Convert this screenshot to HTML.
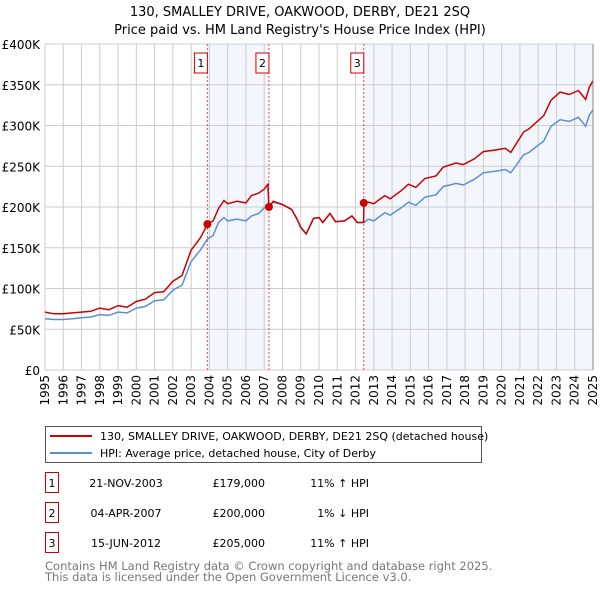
<!DOCTYPE html>
<html><head><meta charset="utf-8"><style>
body{margin:0;background:#fff;font-family:"Liberation Sans","DejaVu Sans",sans-serif;}
svg text{font-family:"DejaVu Sans","Liberation Sans",sans-serif;}
</style></head><body>
<svg id="c" width="600" height="590" xmlns="http://www.w3.org/2000/svg">
<text x="300" y="16" text-anchor="middle" font-size="13" fill="#000">130, SMALLEY DRIVE, OAKWOOD, DERBY, DE21 2SQ</text>
<text x="300" y="34" text-anchor="middle" font-size="13" fill="#000">Price paid vs. HM Land Registry's House Price Index (HPI)</text>
<g id="shade"></g><g id="grid"></g><g id="marks"></g><g id="axes"></g>
<g>
<rect x="45.5" y="426.5" width="436" height="36" fill="#fff" stroke="#555"/>
<line x1="50" y1="436" x2="92" y2="436" stroke="#cc0000" stroke-width="2"/>
<text x="100" y="440" font-size="11">130, SMALLEY DRIVE, OAKWOOD, DERBY, DE21 2SQ (detached house)</text>
<line x1="50" y1="453" x2="92" y2="453" stroke="#5b8fd4" stroke-width="2"/>
<text x="100" y="457" font-size="11">HPI: Average price, detached house, City of Derby</text>
</g>
<g id="table" font-size="11"></g>
<text x="45" y="570" font-size="11.5" fill="#777">Contains HM Land Registry data © Crown copyright and database right 2025.</text>
<text x="45" y="581" font-size="11.5" fill="#777">This data is licensed under the Open Government Licence v3.0.</text>
</svg>
<script>
const years=[1995.0,1995.5,1996.0,1996.5,1997.0,1997.5,1998.0,1998.5,1999.0,1999.5,2000.0,2000.5,2001.0,2001.5,2002.0,2002.5,2003.0,2003.5,2003.9,2004.2,2004.5,2004.8,2005.0,2005.5,2006.0,2006.3,2006.7,2007.0,2007.2,2007.26,2007.5,2008.0,2008.5,2008.8,2009.0,2009.3,2009.7,2010.0,2010.2,2010.6,2010.9,2011.4,2011.8,2012.1,2012.44,2012.46,2012.7,2013.0,2013.6,2013.9,2014.5,2014.9,2015.3,2015.8,2016.4,2016.8,2017.5,2017.9,2018.5,2019.0,2019.7,2020.2,2020.5,2021.2,2021.5,2022.3,2022.7,2023.2,2023.7,2024.2,2024.6,2024.8,2025.0];
const hpi=[63,62,62,63,64,65,68,67,71,70,76,78,85,86,98,104,133,147,161,165,181,187,183,185,183,189,192,199,201,201,206,203,197,185,175,167,186,187,181,192,182,183,189,181,181,181,185,183,193,190,199,206,202,212,215,225,229,227,234,242,244,246,242,264,267,281,299,307,305,310,299,313,319];
const price=[71,69,69,70,71,72,76,74,79,77,84,87,95,96,109,116,147,162,179,183,198,208,204,207,205,214,217,222,228,200,207,203,197,185,175,167,186,187,181,192,182,183,189,181,181,205,206,204,214,210,220,228,224,235,238,249,254,252,259,268,270,272,267,292,296,312,331,341,338,343,332,347,355];
const saleYears=[2003.89,2007.26,2012.45];
const salePrices=[179,200,205];
const saleLabels=["1","2","3"];
const saleDates=["21-NOV-2003","04-APR-2007","15-JUN-2012"];
const saleText=["£179,000","£200,000","£205,000"];
const saleHpi=["11% \u2191 HPI","1% \u2193 HPI","11% \u2191 HPI"];
const yTicks=[0,50,100,150,200,250,300,350,400];
const yLabels=["£0","£50K","£100K","£150K","£200K","£250K","£300K","£350K","£400K"];
const xTicks=[1995,1996,1997,1998,1999,2000,2001,2002,2003,2004,2005,2006,2007,2008,2009,2010,2011,2012,2013,2014,2015,2016,2017,2018,2019,2020,2021,2022,2023,2024,2025];

const L=45,R=593,T=44,B=370;
const X=y=>L+(y-1995)/30*(R-L);
const Y=v=>B-v/400*(B-T);
const NS="http://www.w3.org/2000/svg";
function mk(p,tag,at){const e=document.createElementNS(NS,tag);for(const k in at)e.setAttribute(k,at[k]);document.getElementById(p).appendChild(e);return e;}

let s=mk('shade','rect',{x:X(saleYears[0]),y:T,width:X(saleYears[1])-X(saleYears[0]),height:B-T,fill:'#f3f6fd'});


s=mk('shade','rect',{x:X(saleYears[2]),y:T,width:X(2025)-X(saleYears[2]),height:B-T,fill:'#f3f6fd'});



yTicks.forEach((v,i)=>{
 let g=mk('grid','line',{x1:L,x2:R,y1:Y(v),y2:Y(v),stroke:'#ccc','stroke-width':1});
 
 
 let t=mk('axes','text',{x:40,y:Y(v)+5,'text-anchor':'end','font-size':12});
 t.textContent=yLabels[i];
 
 
});
xTicks.forEach(y=>{
 let g=mk('grid','line',{x1:X(y),x2:X(y),y1:T,y2:B,stroke:'#ccc','stroke-width':1});
 
 
 let t=mk('axes','text',{x:0,y:0,'text-anchor':'end','font-size':12,transform:`translate(${X(y)+4},${B+5}) rotate(-90)`});
 t.textContent=y;
 
 
});

saleYears.forEach((y,i)=>{
 let l=mk('marks','line',{x1:X(y),x2:X(y),y1:T,y2:B,stroke:'#e05050','stroke-width':1,'stroke-dasharray':'2,2'});
 
 
 let r=mk('marks','rect',{x:X(y)-13,y:53,width:13,height:20,fill:'#fff',stroke:'#cc0000'});
 
 
 let t=mk('marks','text',{x:X(y)-6.5,y:67,'text-anchor':'middle','font-size':11});
 t.textContent=saleLabels[i];
 
 
});

function pathOf(arr){return arr.map((v,i)=>(i?'L':'M')+X(years[i]).toFixed(1)+','+Y(v).toFixed(1)).join('');}
let ph=mk('marks','path',{d:pathOf(hpi),fill:'none',stroke:'#5b8fd4','stroke-width':1.5});


let pp=mk('marks','path',{d:pathOf(price),fill:'none',stroke:'#cc0000','stroke-width':1.5});


saleYears.forEach((y,i)=>{
 let c=mk('marks','circle',{cx:X(y),cy:Y(salePrices[i]),r:4,fill:'#cc0000'});
 
 
});
let ax=mk('axes','line',{x1:R,x2:R,y1:T,y2:B,stroke:'#888'});



saleDates.forEach((d,i)=>{
 const y=483+i*30;
 let r=mk('table','rect',{x:45.5,y:y-10.5,width:13,height:20,fill:'#fff',stroke:'#cc0000'});
 
 
 let t=mk('table','text',{x:52,y:y+4,'text-anchor':'middle'});t.textContent=saleLabels[i];
 
 
 t=mk('table','text',{x:126,y:y+4,'text-anchor':'middle'});t.textContent=d;
 
 
 t=mk('table','text',{x:265,y:y+4,'text-anchor':'end'});t.textContent=saleText[i];
 
 
 t=mk('table','text',{x:369,y:y+4,'text-anchor':'end'});t.textContent=saleHpi[i];
 
 
});
</script>
</body></html>
